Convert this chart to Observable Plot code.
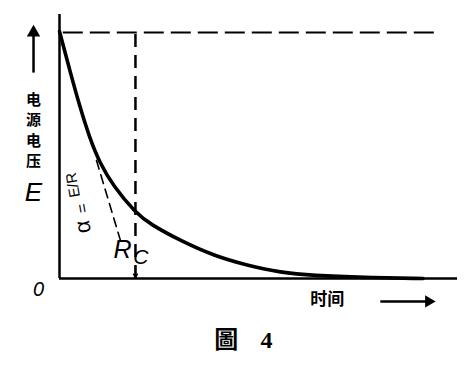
<!DOCTYPE html>
<html>
<head>
<meta charset="utf-8">
<script src="https://cdn.jsdelivr.net/npm/d3@7"></script>
<script src="https://cdn.jsdelivr.net/npm/@observablehq/plot@0.6"></script>
<style>
  html, body { margin: 0; padding: 0; background: #fff; }
  #chart svg { display: block; }
</style>
</head>
<body>
<div id="chart"></div>
<script>
// Time in units of RC, voltage in units of E
const curveT = [0, 0.132, 0.263, 0.395, 0.526, 0.711, 1.0, 1.197, 1.592, 2.026, 2.474, 2.908, 3.342, 4.0, 4.789];
const curveV = [1.004, 0.85, 0.703, 0.573, 0.472, 0.374, 0.268, 0.22, 0.154, 0.093, 0.053, 0.024, 0.012, 0.004, 0.0];

// dashed tangent (initial slope α = E/R) segment
const tangentT = [0.487, 0.803];
const tangentV = [0.48, 0.154];

const RC = 1;
const E = 1;
const yAxisTop = 1.073;
const xAxisEnd = 5.24;
const topDashEnd = 5.02;

// labels
const yLabelChars = ["电", "源", "电", "压"];
const yLabelCharV = [0.724, 0.642, 0.557, 0.476];
const yLabelE = "E";
const originLabel = "0";
const xLabel = "时间";
const slopeParts = ["α", "=", "E/R"];
const slopePartT = [0.31, 0.30, 0.18];
const slopePartV = [0.21, 0.285, 0.38];
const slopePartSize = [22, 16, 15];
const figLabel = "圖";
const figNumber = "4";

const curve = curveT.map((t, i) => ({t, v: curveV[i]}));
const tangent = tangentT.map((t, i) => ({t, v: tangentV[i]}));
const yChars = yLabelChars.map((c, i) => ({c, v: yLabelCharV[i]}));
const slope = slopeParts.map((s, i) => ({s, t: slopePartT[i], v: slopePartV[i], size: slopePartSize[i]}));

const cjk = "'Noto Sans CJK SC', 'Noto Sans', sans-serif";
const latin = "'Liberation Sans', 'DejaVu Sans', sans-serif";

const marks = [
  // axes
  Plot.ruleX([0], {y1: 0, y2: yAxisTop, stroke: "black", strokeWidth: 2.5}),
  Plot.ruleY([0], {x1: 0, x2: xAxisEnd, stroke: "black", strokeWidth: 2.5}),
  // E level dashed
  Plot.ruleY([E], {x1: 0.05, x2: topDashEnd, stroke: "black", strokeWidth: 2, strokeDasharray: "20,7"}),
  // RC dashed
  Plot.ruleX([RC], {y1: 0, y2: E, stroke: "black", strokeWidth: 2.5, strokeDasharray: "13,8"}),
  Plot.arrow([{t: RC}], {x1: "t", x2: "t", y1: 0.05, y2: 0.004, stroke: "black", strokeWidth: 1.5, headLength: 6}),
  // tangent dashed
  Plot.line(tangent, {x: "t", y: "v", stroke: "black", strokeWidth: 1.6, strokeDasharray: "9,6"}),
  // decay curve
  Plot.line(curve, {x: "t", y: "v", curve: "basis", stroke: "black", strokeWidth: 3.6}),
  // y-axis label with up arrow
  Plot.link([{t: -0.342}], {x1: "t", x2: "t", y1: 0.837, y2: 0.99, stroke: "black", strokeWidth: 2.5}),
  Plot.dot([{t: -0.342}], {x: "t", y: 1.0, symbol: "triangle", r: 5, fill: "black", stroke: "none"}),
  Plot.text(yChars, {x: -0.342, y: "v", text: "c", fontSize: 15, fontWeight: "bold", fontFamily: cjk, fill: "black"}),
  Plot.text([yLabelE], {x: -0.342, y: 0.35, text: d => d, fontSize: 26, fontStyle: "italic", fontFamily: latin, fill: "black"}),
  // origin
  Plot.text([originLabel], {x: -0.276, y: -0.045, text: d => d, fontSize: 20, fontStyle: "italic", fontFamily: latin, fill: "black"}),
  // RC label
  Plot.text(["R"], {x: 0.829, y: 0.114, text: d => d, fontSize: 25, fontStyle: "italic", fontFamily: latin, fill: "black"}),
  Plot.text(["C"], {x: 1.07, y: 0.085, text: d => d, fontSize: 21, fontStyle: "italic", fontFamily: latin, fill: "black"}),
  // slope label
  ...slope.map(p => Plot.text([p], {x: "t", y: "v", text: "s", fontSize: p.size, rotate: -100, fontFamily: latin, fill: "black"})),
  // time label with arrow
  Plot.text([xLabel], {x: 3.526, y: -0.085, text: d => d, fontSize: 17, fontWeight: "bold", fontFamily: cjk, fill: "black"}),
  Plot.link([{v: -0.093}], {x1: 4.224, x2: 4.84, y1: "v", y2: "v", stroke: "black", strokeWidth: 2.5}),
  Plot.dot([{v: -0.093}], {x: 4.86, y: "v", symbol: "triangle", r: 4.5, rotate: 90, fill: "black", stroke: "none"}),
  // figure caption
  Plot.text([figLabel], {x: 2.197, y: -0.252, text: d => d, fontSize: 24, fontWeight: "bold", fontFamily: cjk, fill: "black"}),
  Plot.text([figNumber], {x: 2.724, y: -0.252, text: d => d, fontSize: 24, fontWeight: "bold", fontFamily: "'Liberation Serif', 'DejaVu Serif', serif", fill: "black"})
];

const chart = Plot.plot({
  width: 475,
  height: 366,
  margin: 0,
  x: {domain: [0, xAxisEnd], range: [59, 457], axis: null},
  y: {domain: [0, E], range: [278, 32], axis: null},
  style: {background: "white", overflow: "visible"},
  marks
});
document.getElementById("chart").appendChild(chart);
</script>
</body>
</html>
